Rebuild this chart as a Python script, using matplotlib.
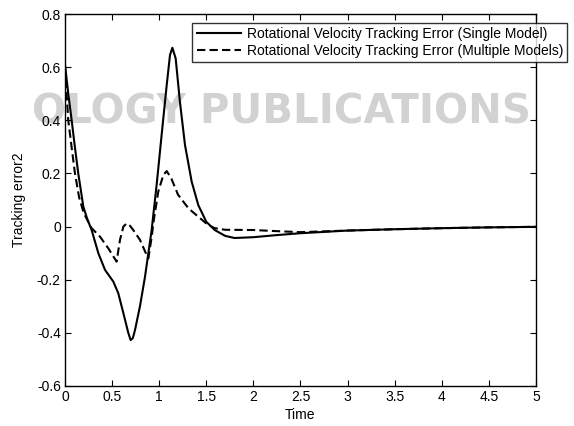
import numpy as np
import matplotlib
matplotlib.use("Agg")
import matplotlib.pyplot as plt

plt.rcParams['font.family'] = ['Liberation Sans', 'DejaVu Sans']

# Single model (solid)
t_single = [0, 0.035, 0.071, 0.105, 0.141, 0.195, 0.235, 0.283, 0.354, 0.425, 0.513,
            0.566, 0.62, 0.672, 0.697, 0.72, 0.743, 0.796, 0.849, 0.885, 0.92, 0.973,
            1.026, 1.08, 1.115, 1.14, 1.175, 1.22, 1.274, 1.345, 1.415, 1.50, 1.59,
            1.70, 1.80, 2.0, 2.25, 2.5, 3.0, 3.5, 4.0, 4.5, 5.0]
e_single = [0.61, 0.50, 0.40, 0.30, 0.20, 0.075, 0.03, -0.013, -0.10, -0.163, -0.207,
            -0.251, -0.326, -0.40, -0.427, -0.42, -0.39, -0.30, -0.19, -0.10, -0.013, 0.157,
            0.345, 0.533, 0.646, 0.673, 0.633, 0.47, 0.307, 0.169, 0.081, 0.018, -0.013,
            -0.035, -0.043, -0.04, -0.032, -0.025, -0.015, -0.01, -0.006, -0.003, -0.001]

# Multiple models (dashed)
t_multi = [0, 0.017, 0.035, 0.07, 0.106, 0.15, 0.20, 0.283, 0.372, 0.46, 0.548, 0.584,
           0.62, 0.655, 0.69, 0.725, 0.796, 0.867, 0.885, 0.92, 0.94, 0.99, 1.044, 1.08,
           1.13, 1.20, 1.31, 1.415, 1.52, 1.59, 1.70, 2.0, 2.3, 2.5, 3.0, 3.5, 4.0, 4.5, 5.0]
e_multi = [0.60, 0.50, 0.40, 0.30, 0.20, 0.11, 0.05, -0.006, -0.038, -0.082, -0.132, -0.05,
           0.0, 0.012, 0.003, -0.013, -0.05, -0.107, -0.12, -0.04, 0.018, 0.131, 0.194, 0.209,
           0.18, 0.12, 0.069, 0.037, 0.006, -0.006, -0.012, -0.013, -0.018, -0.021, -0.015,
           -0.01, -0.006, -0.003, -0.001]

labels = ["Rotational Velocity Tracking Error (Single Model)",
          "Rotational Velocity Tracking Error (Multiple Models)"]

fig = plt.figure(figsize=(5.74, 4.26), dpi=100)
ax = fig.add_axes([0.1132, 0.0939, 0.8206, 0.8732])

# faint publisher watermark
ax.text(0.49, 0.735, "OLOGY PUBLICATIONS", transform=fig.transFigure, ha="center",
        va="center", fontsize=29, fontweight="bold", color="#d2d2d2",
        family="DejaVu Sans", zorder=0.5, clip_on=False)

ax.plot(t_single, e_single, color="black", lw=1.5, label=labels[0], zorder=3)
ax.plot(t_multi, e_multi, color="black", lw=1.5, ls=(0, (4, 2)), label=labels[1], zorder=3)

ax.set_xlim(0, 5)
ax.set_ylim(-0.6, 0.8)
ax.set_xticks(np.arange(0, 5.01, 0.5))
ax.set_xticklabels(["0", "0.5", "1", "1.5", "2", "2.5", "3", "3.5", "4", "4.5", "5"])
ax.set_yticks(np.arange(-0.6, 0.81, 0.2))
ax.set_yticklabels(["-0.6", "-0.4", "-0.2", "0", "0.2", "0.4", "0.6", "0.8"])
ax.tick_params(direction="in", top=True, right=True, labelsize=10, length=4, pad=3)
for s in ax.spines.values():
    s.set_linewidth(1.0)

ax.set_xlabel("Time", fontsize=10, labelpad=3)
ax.set_ylabel("Tracking error2", fontsize=10, labelpad=8)

leg = ax.legend(loc="upper right", bbox_to_anchor=(1.066, 0.977), fontsize=10,
                handlelength=3.2, frameon=True, fancybox=False, borderpad=0.3,
                labelspacing=0.25, handletextpad=0.4, borderaxespad=0)
leg.get_frame().set_edgecolor("black")
leg.get_frame().set_linewidth(1.0)
leg.set_zorder(5)

fig.savefig("out.png", dpi=100)
